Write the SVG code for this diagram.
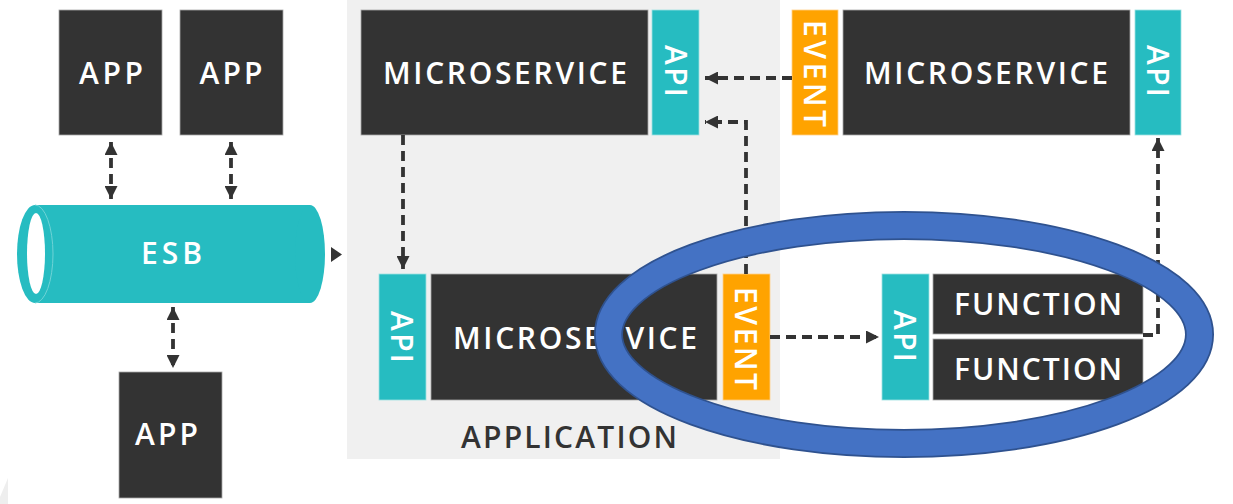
<svg xmlns="http://www.w3.org/2000/svg" width="1233" height="504" viewBox="0 0 1233 504">
<defs>
<style>
.dark{fill:#333333;stroke:#a8a8a8;stroke-width:0.8}
.teal{fill:#26BCC1;stroke:#9fe0e2;stroke-width:0.8}
.orange{fill:#FFA300;stroke:#ffd08a;stroke-width:0.8}
.lbl{font-family:"Open Sans","Liberation Sans",sans-serif;font-size:30px;font-weight:600;fill:#ffffff;text-anchor:middle}
.dash{fill:none;stroke:#333333;stroke-width:3.8;stroke-dasharray:10 6}
</style>
<marker id="ah" viewBox="0 0 10 10" refX="10" refY="5" markerWidth="13" markerHeight="13" markerUnits="userSpaceOnUse" orient="auto-start-reverse">
<path d="M0,0 L10,5 L0,10 Z" fill="#333333"/>
</marker>
</defs>
<rect width="1233" height="504" fill="#ffffff"/>
<polygon points="8,478 8,504 0,504 0,497" fill="#eeeeee"/>
<g id="application">
<rect x="347" y="0" width="433" height="459" fill="#F0F0F0"/>
<text x="569" y="448" class="lbl" style="fill:#333333;font-size:30px;font-weight:600" textLength="216" lengthAdjust="spacing">APPLICATION</text>
</g>
<g id="app1"><rect class="dark" x="59" y="10" width="103" height="125"/><text class="lbl" x="111" y="84" textLength="64" lengthAdjust="spacing">APP</text></g>
<g id="app2"><rect class="dark" x="180" y="10" width="103" height="125"/><text class="lbl" x="231" y="84" textLength="63" lengthAdjust="spacing">APP</text></g>
<g id="app3"><rect class="dark" x="119" y="372" width="103" height="126"/><text class="lbl" x="166.5" y="445" textLength="63" lengthAdjust="spacing">APP</text></g>
<g id="esb">
<rect x="35" y="205" width="275" height="98" fill="#26BCC1"/>
<ellipse cx="310" cy="254" rx="15" ry="49" fill="#26BCC1"/>
<ellipse cx="35" cy="254" rx="18" ry="49" fill="#26BCC1"/>
<path d="M35,205 A18,49 0 0 1 35,303" fill="none" stroke="#6fd3d6" stroke-width="1"/>
<ellipse cx="36" cy="253.5" rx="9" ry="40.5" fill="#ffffff"/>
<text class="lbl" x="171.5" y="264" textLength="61" lengthAdjust="spacing">ESB</text>
</g>
<g id="ms-top">
<rect class="dark" x="361" y="10" width="287" height="125"/>
<text class="lbl" x="505" y="84" textLength="244" lengthAdjust="spacing">MICROSERVICE</text>
</g>
<g id="api-top"><rect class="teal" x="652" y="10" width="47" height="125"/><text class="lbl" transform="translate(676,71) rotate(90)" x="0" y="11" textLength="52" lengthAdjust="spacing">API</text></g>
<g id="event-top"><rect class="orange" x="792" y="10" width="46" height="125"/><text class="lbl" transform="translate(815,73.5) rotate(90)" x="0" y="11" textLength="107" lengthAdjust="spacing">EVENT</text></g>
<g id="ms-right">
<rect class="dark" x="843" y="10" width="287" height="125"/>
<text class="lbl" x="986" y="84" textLength="244" lengthAdjust="spacing">MICROSERVICE</text>
</g>
<g id="api-right"><rect class="teal" x="1135" y="10" width="46" height="125"/><text class="lbl" transform="translate(1158,71) rotate(90)" x="0" y="11" textLength="52" lengthAdjust="spacing">API</text></g>
<g id="api-low"><rect class="teal" x="379" y="274" width="47" height="126"/><text class="lbl" transform="translate(402,337) rotate(90)" x="0" y="11" textLength="52" lengthAdjust="spacing">API</text></g>
<g id="ms-low">
<rect class="dark" x="431" y="274" width="286" height="126"/>
<text class="lbl" x="575" y="349" textLength="244" lengthAdjust="spacing">MICROSERVICE</text>
</g>
<g id="event-low"><rect class="orange" x="723" y="274" width="47" height="126"/><text class="lbl" transform="translate(746,338.5) rotate(90)" x="0" y="11" textLength="103" lengthAdjust="spacing">EVENT</text></g>
<g id="api-func"><rect class="teal" x="882" y="274" width="47" height="126"/><text class="lbl" transform="translate(905,336) rotate(90)" x="0" y="11" textLength="52" lengthAdjust="spacing">API</text></g>
<g id="function1"><rect class="dark" x="933" y="274" width="210" height="60"/><text class="lbl" x="1038" y="315" textLength="168" lengthAdjust="spacing">FUNCTION</text></g>
<g id="function2"><rect class="dark" x="933" y="339" width="210" height="61"/><text class="lbl" x="1038" y="380" textLength="168" lengthAdjust="spacing">FUNCTION</text></g>
<g id="connectors">
<path class="dash" d="M111,142 L111,199" marker-start="url(#ah)" marker-end="url(#ah)"/>
<path class="dash" d="M231,142 L231,199" marker-start="url(#ah)" marker-end="url(#ah)"/>
<path class="dash" d="M173,307 L173,368" marker-start="url(#ah)" marker-end="url(#ah)"/>
<path d="M331,247 L342,254.5 L331,262 Z" fill="#333333"/>
<path class="dash" d="M403,135 L403,269" marker-end="url(#ah)"/>
<path class="dash" d="M792,78 L705,78" marker-end="url(#ah)"/>
<path class="dash" d="M746,274 L746,122 L705,122" marker-end="url(#ah)"/>
<path class="dash" d="M770,337 L879,337" marker-end="url(#ah)"/>
<path class="dash" d="M1143,335 L1158,335 L1158,138" marker-end="url(#ah)"/>
</g>
<g id="highlight">
<ellipse cx="904" cy="334.5" rx="295.5" ry="109" fill="none" stroke="#2F528F" stroke-width="29"/>
<ellipse cx="904" cy="334.5" rx="295.5" ry="109" fill="none" stroke="#4472C4" stroke-width="25.5"/>
</g>
</svg>
